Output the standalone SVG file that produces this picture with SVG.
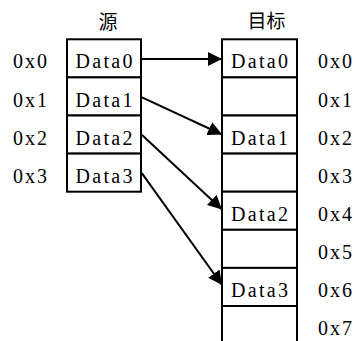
<svg xmlns="http://www.w3.org/2000/svg" width="356" height="341" viewBox="0 0 356 341">
  <style>
    .cell { fill: #ffffff; stroke: #000000; stroke-width: 2; }
    .ln { fill: none; stroke: #000000; stroke-width: 2; }
    .t { font-family: "Liberation Serif", "DejaVu Serif", serif; font-size: 20px; fill: #000000; text-anchor: middle; }
    .h { font-family: "Noto Sans CJK SC", sans-serif; font-size: 19px; fill: #000000; text-anchor: middle; }
    .conn { fill: none; stroke: #000000; stroke-width: 2; }
  </style>
  <defs>
    <marker id="arrow" markerUnits="userSpaceOnUse" markerWidth="14" markerHeight="14" refX="14" refY="7" orient="auto">
      <path d="M0,0 L14,7 L0,14 Z" fill="#000000"/>
    </marker>
  </defs>
  <rect width="356" height="341" fill="#ffffff"/>

  <text class="h" x="108" y="29">源</text>
  <text class="h" x="266.5" y="28">目标</text>

  <g id="src">
    <g id="src0"><rect class="cell" x="67" y="39.3" width="74" height="38.1"/><text class="t" x="104" y="68.4" textLength="57" lengthAdjust="spacing">Data0</text><text class="t" x="30" y="68.4" textLength="34" lengthAdjust="spacing">0x0</text></g>
    <g id="src1"><rect class="cell" x="67" y="77.4" width="74" height="38.1"/><text class="t" x="104" y="106.5" textLength="57" lengthAdjust="spacing">Data1</text><text class="t" x="30" y="106.5" textLength="34" lengthAdjust="spacing">0x1</text></g>
    <g id="src2"><rect class="cell" x="67" y="115.5" width="74" height="38.1"/><text class="t" x="104" y="144.6" textLength="57" lengthAdjust="spacing">Data2</text><text class="t" x="30" y="144.6" textLength="34" lengthAdjust="spacing">0x2</text></g>
    <g id="src3"><rect class="cell" x="67" y="153.6" width="74" height="38.1"/><text class="t" x="104" y="182.7" textLength="57" lengthAdjust="spacing">Data3</text><text class="t" x="30" y="182.7" textLength="34" lengthAdjust="spacing">0x3</text></g>
  </g>

  <g id="dst">
    <g id="dst0"><rect class="cell" x="222" y="39.3" width="75" height="38.1"/><text class="t" x="259.5" y="68.4" textLength="57" lengthAdjust="spacing">Data0</text><text class="t" x="335" y="68.4" textLength="34" lengthAdjust="spacing">0x0</text></g>
    <g id="dst1"><rect class="cell" x="222" y="77.4" width="75" height="38.1"/><text class="t" x="335" y="106.5" textLength="34" lengthAdjust="spacing">0x1</text></g>
    <g id="dst2"><rect class="cell" x="222" y="115.5" width="75" height="38.1"/><text class="t" x="259.5" y="144.6" textLength="57" lengthAdjust="spacing">Data1</text><text class="t" x="335" y="144.6" textLength="34" lengthAdjust="spacing">0x2</text></g>
    <g id="dst3"><rect class="cell" x="222" y="153.6" width="75" height="38.1"/><text class="t" x="335" y="182.7" textLength="34" lengthAdjust="spacing">0x3</text></g>
    <g id="dst4"><rect class="cell" x="222" y="191.7" width="75" height="38.1"/><text class="t" x="259.5" y="220.8" textLength="57" lengthAdjust="spacing">Data2</text><text class="t" x="335" y="220.8" textLength="34" lengthAdjust="spacing">0x4</text></g>
    <g id="dst5"><rect class="cell" x="222" y="229.8" width="75" height="38.1"/><text class="t" x="335" y="258.9" textLength="34" lengthAdjust="spacing">0x5</text></g>
    <g id="dst6"><rect class="cell" x="222" y="267.9" width="75" height="38.1"/><text class="t" x="259.5" y="297" textLength="57" lengthAdjust="spacing">Data3</text><text class="t" x="335" y="297" textLength="34" lengthAdjust="spacing">0x6</text></g>
    <g id="dst7"><path class="ln" d="M222,306 L222,343 M297,306 L297,343 M222,306 L297,306"/><text class="t" x="335" y="335.1" textLength="34" lengthAdjust="spacing">0x7</text></g>
  </g>

  <g id="connectors">
    <line class="conn" x1="141" y1="59" x2="222" y2="59" marker-end="url(#arrow)"/>
    <line class="conn" x1="142" y1="97.3" x2="222" y2="134.5" marker-end="url(#arrow)"/>
    <line class="conn" x1="142" y1="135" x2="222" y2="209.5" marker-end="url(#arrow)"/>
    <line class="conn" x1="142" y1="173.3" x2="222" y2="285" marker-end="url(#arrow)"/>
  </g>
</svg>
